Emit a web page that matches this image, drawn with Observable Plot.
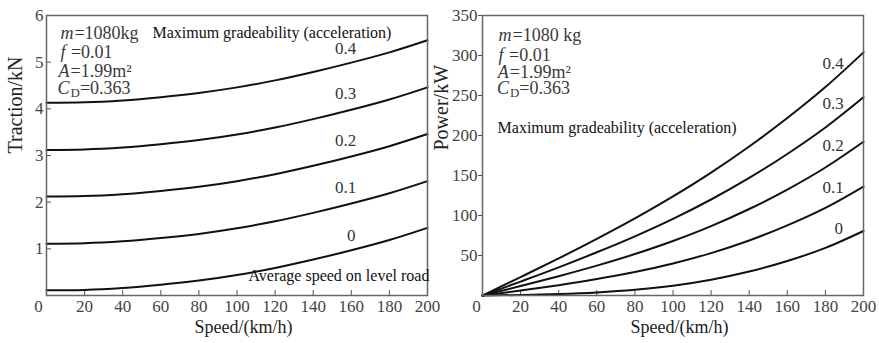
<!DOCTYPE html>
<html><head><meta charset="utf-8">
<script src="https://cdn.jsdelivr.net/npm/d3@7"></script>
<script src="https://cdn.jsdelivr.net/npm/@observablehq/plot@0.6"></script>
<style>
body{margin:0;background:#fff;}
#wrap{display:flex;width:879px;height:343px;}
svg{overflow:visible;}
svg, svg text{font-family:"Liberation Serif", "Times New Roman", serif !important;}
</style></head><body><div id="wrap"></div>
<script>
// ---- data ----
const speeds = [0, 20, 40, 60, 80, 100, 120, 140, 160, 180, 200];
const grades = ["0", "0.1", "0.2", "0.3", "0.4"];

const traction_0   = [0.11, 0.12, 0.16, 0.23, 0.32, 0.44, 0.59, 0.77, 0.97, 1.19, 1.45];
const traction_0_1 = [1.11, 1.12, 1.16, 1.23, 1.32, 1.44, 1.59, 1.77, 1.97, 2.19, 2.45];
const traction_0_2 = [2.12, 2.13, 2.17, 2.24, 2.33, 2.45, 2.60, 2.78, 2.98, 3.20, 3.46];
const traction_0_3 = [3.12, 3.13, 3.17, 3.24, 3.33, 3.45, 3.60, 3.78, 3.98, 4.20, 4.46];
const traction_0_4 = [4.13, 4.14, 4.18, 4.25, 4.34, 4.46, 4.61, 4.79, 4.99, 5.21, 5.47];

const power_0   = [0, 0.7, 1.8, 3.8, 7.1, 12.2, 19.7, 29.9, 43.1, 59.5, 80.6];
const power_0_1 = [0, 6.2, 12.9, 20.5, 29.3, 40.0, 53.0, 68.8, 87.6, 109.5, 136.1];
const power_0_2 = [0, 11.8, 24.1, 37.3, 51.8, 68.1, 86.7, 108.1, 132.4, 160.0, 192.2];
const power_0_3 = [0, 17.4, 35.2, 54.0, 74.0, 95.8, 120.0, 147.0, 176.9, 210.0, 247.8];
const power_0_4 = [0, 23.0, 46.4, 70.8, 96.4, 123.9, 153.7, 186.3, 221.8, 260.5, 303.9];

const xTicks = [20, 40, 60, 80, 100, 120, 140, 160, 180, 200];
const tractionTicks = [1, 2, 3, 4, 5, 6];
const powerTicks = [50, 100, 150, 200, 250, 300, 350];

const xTitle = "Speed/(km/h)";
const tractionTitle = "Traction/kN";
const powerTitle = "Power/kW";
const gradeNote = "Maximum gradeability (acceleration)";
const levelNote = "Average speed on level road";
const paramLinesLeft = [
  [["m", "i"], ["=1080kg", ""]],
  [["f", "i"], [" =0.01", ""]],
  [["A", "i"], ["=1.99m²", ""]],
  [["C", "i"], ["D", "sub"], ["=0.363", ""]]
];
const paramLinesRight = [
  [["m", "i"], ["=1080 kg", ""]],
  [["f", "i"], [" =0.01", ""]],
  [["A", "i"], ["=1.99m²", ""]],
  [["C", "i"], ["D", "sub"], ["=0.363", ""]]
];

// ---- helpers ----
const FONT = "Liberation Serif";
const tractionSeries = [traction_0, traction_0_1, traction_0_2, traction_0_3, traction_0_4];
const powerSeries = [power_0, power_0_1, power_0_2, power_0_3, power_0_4];
const toRows = (series) => grades.flatMap((g, i) => speeds.map((s, j) => ({speed: s, value: series[i][j], grade: g})));

const ctx = document.createElement("canvas").getContext("2d");
function tw(s, size, style) { ctx.font = `${style || ""} ${size}px "${FONT}", serif`; return ctx.measureText(s).width; }

function paramMarks(lines, xs, ys, size) {
  const marks = [];
  lines.forEach((segs, li) => {
    let off = 0;
    segs.forEach(([t, kind]) => {
      const fs = kind === "sub" ? size * 0.72 : size;
      const style = kind === "i" ? "italic" : "";
      marks.push(Plot.text([t], {
        x: xs[li], y: ys[li], text: d => d, textAnchor: "start",
        dx: off, dy: kind === "sub" ? 5 : 0,
        fontSize: fs, fontStyle: kind === "i" ? "italic" : "normal",
        fontFamily: FONT, fill: "#3a3a3a"
      }));
      off += tw(t, fs, style) + (kind === "i" ? 1 : 0);
    });
  });
  return marks;
}

function panel(o) {
  return Plot.plot({
    width: o.width, height: 343,
    marginLeft: o.ml, marginRight: o.mr, marginTop: 15, marginBottom: 48,
    style: {fontFamily: FONT, background: "white", overflow: "visible"},
    x: {domain: [0, 200]},
    y: {domain: o.yDomain},
    marks: [
      Plot.axisX({ticks: xTicks, tickSize: -5, tickPadding: 9, fontSize: 17, fontFamily: FONT, fill: "#444", stroke: "#555", tickFormat: d => d, label: null}),
      Plot.axisY({ticks: o.yTicks, tickSize: o.yTickSize, tickPadding: o.yTickPadding, fontSize: 17, fontFamily: FONT, fill: "#444", stroke: "#555", tickFormat: d => d, label: null}),
      Plot.text(["0"], {x: 0, y: 0, text: d => d, dx: o.zeroDx, dy: 11, fontSize: 17, fontFamily: FONT, fill: "#444"}),
      Plot.line(toRows(o.series), {x: "speed", y: "value", z: "grade", stroke: "#111", strokeWidth: 2, curve: "monotone-x"}),
      Plot.frame({stroke: "#666", strokeWidth: 1.5}),
      Plot.text(grades, {x: o.labX, y: o.labY, text: d => d, fontSize: 17, fontFamily: FONT, fill: "#333"}),
      ...o.extra,
      ...paramMarks(o.params, o.paramX, o.paramY, 18),
      Plot.text([xTitle], {frameAnchor: "bottom", dx: 6.5, dy: 37, text: d => d, fontSize: 18, fontFamily: FONT, fill: "#222"}),
      Plot.text([o.yTitle], {frameAnchor: "left", dx: o.yTitleDx, dy: o.yTitleDy, rotate: -90, text: d => d, fontSize: 20, fontFamily: FONT, fill: "#222"})
    ]
  });
}

const left = panel({
  width: 440, ml: 46, mr: 13, yDomain: [0, 6], series: tractionSeries,
  yTicks: tractionTicks, yTickSize: -5, yTickPadding: 8, zeroDx: -8,
  labX: (d, i) => (i === 0 ? 160 : 157), labY: (d, i) => [1.29, 2.31, 3.32, 4.33, 5.29][i],
  extra: [
    Plot.text([gradeNote], {x: 55.6, y: 5.63, text: d => d, textAnchor: "start", fontSize: 16, fontFamily: FONT, fill: "#111"}),
    Plot.text([levelNote], {x: 106, y: 0.43, text: d => d, textAnchor: "start", fontSize: 16, fontFamily: FONT, fill: "#111"})
  ],
  params: paramLinesLeft, paramX: [7.3, 7.3, 6.3, 5.8], paramY: [5.61, 5.21, 4.80, 4.44],
  yTitle: tractionTitle, yTitleDx: -31, yTitleDy: -2
});

const right = panel({
  width: 439, ml: 42, mr: 16, yDomain: [0, 350], series: powerSeries,
  yTicks: powerTicks, yTickSize: 4, yTickPadding: 1, zeroDx: -6,
  labX: (d, i) => (i === 0 ? 187 : 184), labY: (d, i) => [84, 135, 187.5, 240, 290][i],
  extra: [
    Plot.text([gradeNote], {x: 7.9, y: 210, text: d => d, textAnchor: "start", fontSize: 16, fontFamily: FONT, fill: "#111"})
  ],
  params: paramLinesRight, paramX: [8.4, 8.4, 8.0, 7.6], paramY: [325, 300, 279, 259],
  yTitle: powerTitle, yTitleDx: -41, yTitleDy: -5
});

document.getElementById("wrap").append(left, right);
</script></body></html>
